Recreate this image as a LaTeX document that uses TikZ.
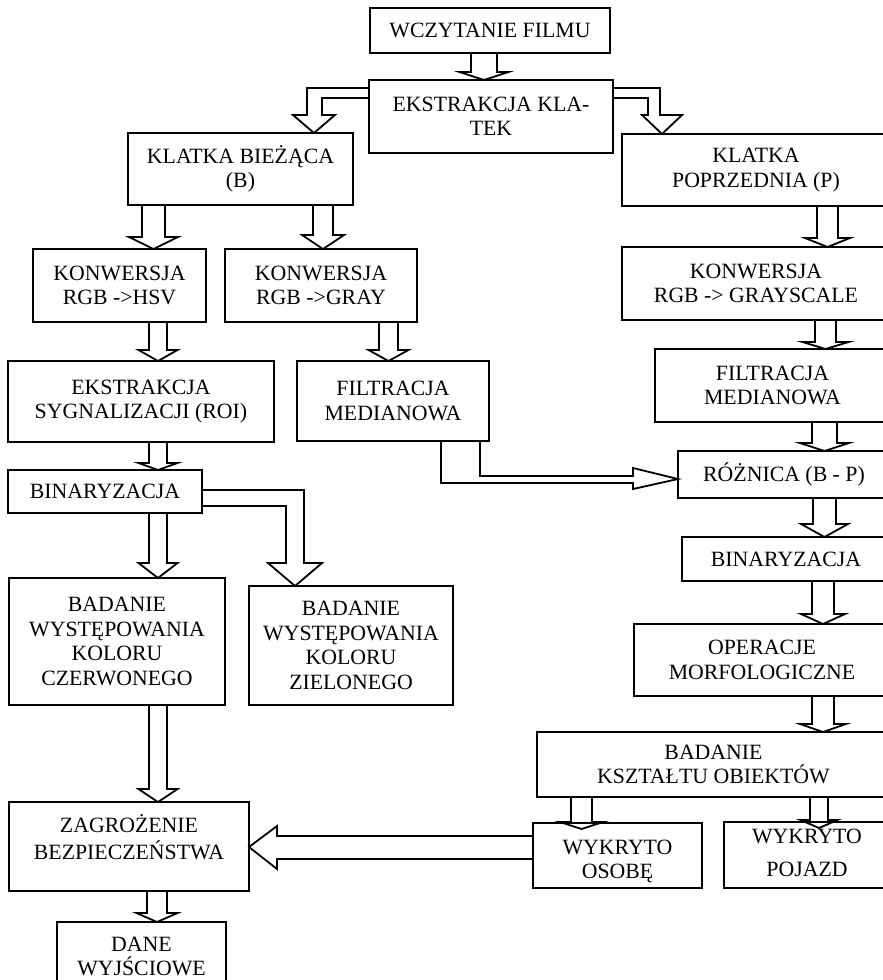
\documentclass[tikz,border=0pt]{standalone}
\usepackage{fontspec}
\setmainfont{Liberation Serif}
\usetikzlibrary{calc}
\newcommand\mybox[6]{\node[box, minimum width={(#4-#2)*1pt}, minimum height={(#5-#3)*1pt}] (#1) at ({(#2+#4)/2},{(#3+#5)/2}) {#6};}
% #1 from, #2 to, #3 centre x, #4 shaft half width, #5 head half width, #6 head length, #7 tip offset
\newcommand\blockdown[7]{\draw[blk] (#3-#4,0 |- #1.south) |- ($(#3,0 |- #2.north)+(-#5,#7-#6)$) -- ($(#3,0 |- #2.north)+(0,#7)$) -- ++(#5,-#6) -| (#3+#4,0 |- #1.south);}
\begin{document}
\begin{tikzpicture}[x=1pt,y=-1pt,
  txt/.style={inner sep=0pt, align=center, font=\fontsize{21.8}{24.5}\selectfont},
  box/.style={txt, draw, line width=1.8pt, outer sep=0pt},
  blk/.style={draw, line width=1.8pt, line join=miter}]
\useasboundingbox (0,0) rectangle (883,980);
\clip (0,0) rectangle (883,980);
% boxes
\mybox{a}{370}{8}{610}{53}{WCZYTANIE FILMU}
\mybox{b}{369}{80}{613}{153}{EKSTRAKCJA KLA-\\TEK}
\mybox{c}{128}{133}{353}{205}{KLATKA BIEŻĄCA\\(B)}
\mybox{d}{622}{134}{890}{206}{KLATKA\\POPRZEDNIA (P)}
\mybox{e}{33}{249}{206}{322}{KONWERSJA\\RGB ->HSV}
\mybox{f}{225}{249}{417}{322}{KONWERSJA\\RGB ->GRAY}
\mybox{g}{622}{247}{890}{320}{KONWERSJA\\RGB -> GRAYSCALE}
\mybox{h}{655}{349}{890}{422}{FILTRACJA\\MEDIANOWA}
\mybox{i}{8}{361}{274}{442}{EKSTRAKCJA\\SYGNALIZACJI (ROI)}
\mybox{j}{297}{361}{489}{441}{FILTRACJA\\MEDIANOWA}
\mybox{k}{8}{470}{202}{513}{BINARYZACJA}
\mybox{l}{678}{451}{890}{498}{RÓŻNICA (B - P)}
\mybox{m}{682}{537}{890}{581}{BINARYZACJA}
\mybox{n}{634}{624}{890}{696}{OPERACJE\\MORFOLOGICZNE}
\mybox{o}{537}{732}{890}{797}{BADANIE\\KSZTAŁTU OBIEKTÓW}
\mybox{r}{9}{578}{225}{705}{BADANIE\\WYSTĘPOWANIA\\KOLORU\\CZERWONEGO}
\mybox{s}{249}{586}{453}{705}{BADANIE\\WYSTĘPOWANIA\\KOLORU\\ZIELONEGO}
\mybox{u}{57}{922}{226}{991}{DANE\\WYJŚCIOWE}
\node[box, minimum width=169pt, minimum height=65pt,
  label={[txt,yshift=-6pt]center:{WYKRYTO\\OSOBĘ}}] (p) at (617.5,855.5) {};
\node[box, minimum width=166pt, minimum height=66pt,
  label={[txt,yshift=2pt]center:{WYKRYTO\\[8pt]POJAZD}}] (q) at (807,855) {};
\node[box, minimum width=240pt, minimum height=89pt,
  label={[txt,yshift=9.5pt]center:{ZAGROŻENIE\\[2pt]BEZPIECZEŃSTWA}}] (t) at (129,846.5) {};
% straight block arrows
\blockdown{a}{b}{484}{13}{24.5}{8}{0}
\blockdown{c}{e}{153.5}{11.5}{24.5}{12}{0}
\blockdown{c}{f}{323}{10}{21}{14}{0}
\blockdown{d}{g}{827.5}{10.5}{22.5}{9}{0}
\blockdown{g}{h}{825.5}{10.5}{23}{7}{0}
\blockdown{e}{i}{158}{9}{19.5}{11}{0}
\blockdown{f}{j}{388.5}{9.5}{20}{11}{0}
\blockdown{i}{k}{158}{9}{19.5}{7}{0}
\blockdown{h}{l}{824.5}{12.5}{24.5}{8}{0}
\blockdown{l}{m}{824.5}{11.5}{23.5}{13}{0}
\blockdown{m}{n}{823}{11}{22}{10}{0}
\blockdown{n}{o}{823}{11}{23}{8}{0}
\blockdown{o}{p}{581.5}{10.5}{21.5}{7}{6}
\blockdown{o}{q}{819}{9}{18.5}{8}{6}
\blockdown{k}{r}{158}{9}{19.5}{15}{0}
\blockdown{r}{t}{158}{9}{19.5}{13}{0}
\blockdown{t}{u}{157}{10}{20.5}{9}{0}
% elbow block arrows
\draw[blk] (b.west |- 0,88) -- (307,88) -- (307,115) -- (293,115) -- (314,0 |- c.north) -- (335,115) -- (322,115) -- (322,98) -- (b.west |- 0,98);
\draw[blk] (b.east |- 0,88) -- (660,88) -- (660,115) -- (682,115) -- (662,0 |- d.north) -- (642,115) -- (648,115) -- (648,98) -- (b.east |- 0,98);
\draw[blk] (k.east |- 0,490) -- (304,490) -- (304,563) -- (322,563) -- (295,0 |- s.north) -- (268,563) -- (286,563) -- (286,506) -- (k.east |- 0,506);
\draw[blk] (441,0 |- j.south) -- (441,483) -- (633,483) -- (633,489) -- (l.west |- 0,479) -- (633,468) -- (633,476) -- (480,476) -- (480,0 |- j.south);
\draw[blk] (p.west |- 0,836) -- (277,836) -- (277,826) -- (t.east |- 0,847) -- (277,869) -- (277,859) -- (p.west |- 0,859);
\end{tikzpicture}
\end{document}
